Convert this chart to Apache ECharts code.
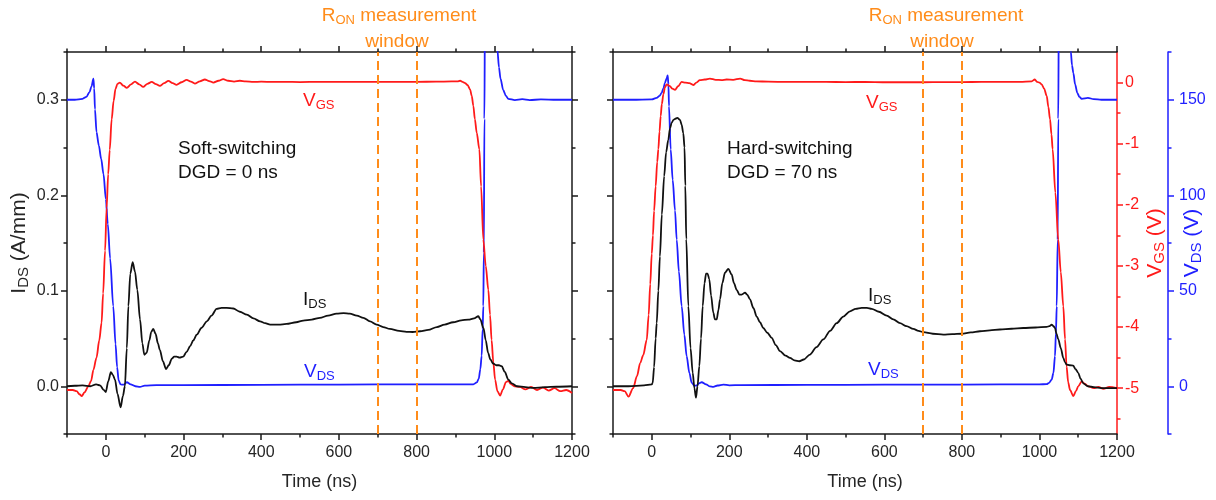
<!DOCTYPE html>
<html><head><meta charset="utf-8">
<script src="https://cdn.jsdelivr.net/npm/echarts@6/dist/echarts.min.js"></script>
<style>html,body{margin:0;padding:0;background:#fff}#c{width:1216px;height:500px}</style>
</head><body><div id="c"></div>
<script>
// ---------- axis ranges & ticks ----------
const T_MIN = -100, T_MAX = 1200;
const X_MAJOR = [0, 200, 400, 600, 800, 1000, 1200];
const X_MINOR = [-100, 100, 300, 500, 700, 900, 1100];
const I_MIN = -0.05, I_MAX = 0.35;
const I_MAJOR = [0, 0.1, 0.2, 0.3];
const I_MINOR = [-0.05, 0.05, 0.15, 0.25, 0.35];
const VGS_MIN = -5.75, VGS_MAX = 0.5;
const VGS_MAJOR = [0, -1, -2, -3, -4, -5];
const VGS_MINOR = [-0.5, -1.5, -2.5, -3.5, -4.5, -5.5];
const VDS_MIN = -25, VDS_MAX = 175;
const VDS_MAJOR = [0, 50, 100, 150];
const VDS_MINOR = [-25, 25, 75, 125, 175];
const WINDOW_T = [700, 800];

// ---------- Soft-switching (DGD = 0 ns) ----------
const softIds = [[-100,0],[-80,0.0005],[-60,0.001],[-40,0.0],[-25,0.002],[-15,0.001],[-5,-0.004],[0,-0.006],[6,0.005],[13,0.0147],[18,0.012],[23.6,0.007],[30,-0.008],[38,-0.022],[44,-0.01],[49,0.0],[54,0.04],[58,0.084],[63,0.118],[69,0.13],[75,0.12],[81,0.101],[88,0.07],[94,0.045],[99,0.033],[105,0.035],[112,0.048],[117,0.057],[122,0.060],[128,0.055],[134,0.045],[139,0.038],[147,0.026],[155,0.018],[162,0.022],[170,0.029],[176,0.031],[182,0.031],[190,0.03],[199,0.031],[208,0.036],[217,0.042],[225,0.048],[234,0.054],[246,0.061],[260,0.068],[272,0.074],[285,0.081],[298,0.082],[311,0.082],[328,0.0814],[345,0.078],[363,0.075],[380,0.071],[397,0.068],[410,0.066],[423,0.0646],[445,0.0645],[465,0.0653],[490,0.067],[508,0.0688],[530,0.0698],[551,0.0716],[572,0.074],[594,0.0761],[612,0.0765],[628,0.0761],[646,0.074],[663,0.0716],[680,0.068],[697,0.0646],[714,0.062],[731,0.060],[755,0.058],[774,0.057],[790,0.0568],[809,0.0576],[830,0.059],[852,0.062],[872,0.0645],[894,0.067],[915,0.069],[933,0.0698],[948,0.071],[959,0.0733],[964,0.07],[972,0.061],[978,0.048],[984,0.035],[990,0.028],[997,0.0238],[1005,0.022],[1012,0.022],[1019,0.021],[1027,0.015],[1036,0.007],[1045,0.003],[1058,0.0],[1080,-0.001],[1100,-0.0017],[1130,-0.001],[1160,-0.0005],[1200,0]];
const softVgs = [[-100,-5.03],[-85,-5.03],[-75,-5.05],[-68,-5.1],[-62,-5.13],[-55,-5.07],[-45,-4.97],[-38,-4.88],[-32,-4.7],[-24,-4.5],[-17,-4.22],[-11,-3.93],[-7,-3.45],[-2,-2.75],[2,-2.05],[6,-1.5],[10,-1.1],[15,-0.6],[20,-0.3],[25,-0.1],[30,-0.02],[36,0.0],[45,-0.05],[54,-0.088],[65,-0.03],[75,0.016],[86,-0.03],[96,-0.072],[107,-0.02],[118,0.01],[129,-0.025],[139,-0.055],[150,-0.01],[161,0.027],[172,-0.01],[182,-0.038],[195,0.005],[208,0.044],[219,0.015],[229,-0.016],[242,0.02],[255,0.05],[266,0.025],[277,0.0],[290,0.03],[302,0.055],[315,0.03],[330,0.015],[345,0.03],[360,0.02],[380,0.01],[400,0.015],[430,0.01],[460,0.012],[500,0.008],[550,0.012],[600,0.01],[650,0.01],[700,0.01],[750,0.012],[800,0.012],[850,0.015],[890,0.018],[905,0.02],[912,0.03],[918,0.01],[925,-0.01],[931,-0.04],[937.5,-0.11],[942,-0.22],[946,-0.38],[950,-0.6],[954.7,-0.82],[961.5,-1.09],[966,-1.7],[971.7,-2.57],[978,-3.0],[984.6,-3.39],[989,-3.8],[993,-4.21],[997.5,-4.58],[1002,-4.86],[1008,-5.05],[1015,-5.12],[1022,-5.02],[1030,-4.9],[1036,-4.88],[1042,-4.93],[1052,-4.97],[1066,-4.98],[1080,-5.02],[1095,-4.98],[1110,-5.03],[1125,-4.99],[1140,-5.04],[1155,-5.0],[1170,-5.05],[1185,-5.03],[1200,-5.08]];
const softVds = [[-100,150],[-80,150],[-60,150.5],[-50,151.5],[-42,154],[-37,157],[-32,161],[-30,156],[-28,145],[-24,133],[-18,126],[-12,119],[-6,111],[0,98],[5,85],[11,67],[19,42],[25,22],[29,10],[33,3],[38,1],[46,0.8],[54,2.1],[64,1.0],[76,0.0],[88,-0.3],[100,0.3],[130,0.6],[200,0.6],[400,0.7],[600,0.9],[800,1.0],[946,1.0],[955,2],[960,4],[964,9],[967.5,16],[970,30],[971.7,42],[973,70],[974.5,140],[976,200],[990,240],[1004,200],[1008,176],[1012,167],[1016,161],[1023,155],[1030,152],[1036,150.5],[1053,149.8],[1072,150.3],[1091,149.8],[1120,150.2],[1160,150],[1200,150]];

// ---------- Hard-switching (DGD = 70 ns) ----------
const hardIds = [[-100,0],[-60,0.0],[-20,0.001],[0,0.002],[2.4,0.0035],[6,0.02],[10,0.05],[12.7,0.066],[17,0.1],[21,0.136],[26,0.18],[32,0.22],[37,0.245],[42.6,0.258],[47,0.27],[51.4,0.276],[56,0.279],[60,0.28],[66,0.281],[72.8,0.279],[77,0.274],[81.3,0.265],[84.5,0.25],[86.5,0.21],[89,0.154],[94.3,0.084],[100,0.04],[105.6,0.014],[110,-0.002],[114,-0.012],[118,0.0],[122.6,0.021],[127,0.05],[131.4,0.084],[136,0.108],[140,0.118],[144,0.118],[148.4,0.112],[153,0.095],[158.7,0.077],[163,0.07],[167.5,0.070],[172,0.08],[176,0.091],[182,0.108],[188.9,0.119],[197.4,0.123],[206,0.117],[212,0.108],[219,0.101],[226,0.096],[232,0.096],[240.5,0.098],[246,0.096],[253.4,0.091],[262,0.082],[270.7,0.073],[279,0.067],[287.7,0.061],[298,0.056],[309.3,0.0507],[320,0.043],[330.8,0.0367],[345,0.032],[356.5,0.0297],[368,0.027],[380.6,0.0262],[392,0.028],[408,0.0332],[425,0.041],[442.5,0.049],[460,0.058],[477,0.066],[494,0.073],[511.3,0.0785],[526,0.081],[541.5,0.082],[555,0.082],[567.3,0.081],[586,0.078],[606,0.074],[623,0.070],[640.3,0.066],[657,0.063],[674.6,0.060],[688,0.058],[700.4,0.0566],[725,0.055],[752,0.054],[775,0.0545],[799.4,0.055],[823,0.0565],[846.6,0.0576],[872,0.0585],[898.2,0.0594],[928,0.0602],[958.3,0.061],[990,0.0615],[1018.7,0.0622],[1026,0.063],[1031.5,0.0646],[1036,0.063],[1040,0.061],[1044,0.055],[1048.6,0.049],[1055,0.04],[1061.5,0.0297],[1066,0.025],[1070,0.0227],[1078,0.022],[1087,0.0217],[1093,0.018],[1100,0.014],[1106,0.008],[1113,0.003],[1125,0.0],[1140,-0.001],[1160,-0.002],[1180,-0.002],[1200,-0.002]];
const hardVgs = [[-100,-5.03],[-80,-5.03],[-70,-5.05],[-60,-5.14],[-48,-5.0],[-38,-4.8],[-30,-4.59],[-22,-4.46],[-13,-4.21],[-8,-3.8],[-4,-3.3],[0,-2.8],[3,-2.5],[6,-2.1],[10,-1.7],[14,-1.3],[17,-1.09],[20,-0.8],[23,-0.55],[26,-0.35],[30,-0.19],[34,-0.08],[38.5,-0.03],[47,-0.06],[53,-0.1],[60,-0.12],[68,-0.06],[77,0.01],[87,0.0],[97,-0.01],[107,-0.04],[115,0.0],[124,0.04],[137,0.05],[150,0.066],[165,0.045],[180,0.04],[193,0.05],[210,0.045],[228,0.066],[240,0.04],[253,0.03],[270,0.02],[300,0.015],[350,0.01],[400,0.012],[450,0.01],[500,0.008],[550,0.01],[600,0.005],[650,0.005],[700,0.005],[750,0.008],[800,0.008],[850,0.01],[900,0.01],[950,0.012],[980,0.02],[988,0.05],[994,0.01],[1000,0.0],[1005.8,-0.03],[1012,-0.1],[1018.7,-0.22],[1023,-0.4],[1027.2,-0.6],[1031,-0.85],[1034,-1.09],[1041,-1.8],[1048.6,-2.57],[1055,-3.1],[1061.5,-3.66],[1066,-4.2],[1070,-4.65],[1074,-4.9],[1078.8,-5.03],[1087.3,-5.13],[1094,-5.05],[1100,-4.97],[1109,-4.89],[1117,-4.93],[1126,-4.97],[1140,-5.0],[1152,-4.98],[1165,-5.01],[1180,-4.98],[1200,-5.0]];
const hardVds = [[-100,150],[-50,150],[0,150.2],[12.7,151],[20,152],[25.6,153.6],[30,156],[34,158.8],[38,161],[41,162.7],[43,158],[44.4,146.6],[48.8,124],[54,108],[60,92],[64.3,76.8],[70,60],[77.2,41.9],[84,27],[90,15.7],[97,7],[103,1.8],[110,0.3],[116,0.4],[122,1.5],[128.8,2.1],[140,1.0],[150,-0.1],[158.7,-0.3],[170,0.4],[184.5,0.9],[200,0.5],[230,0.6],[400,0.7],[600,0.8],[800,0.9],[1000,1.0],[1018.6,1.1],[1025,1.8],[1031.5,3.5],[1036,7],[1040,15.7],[1042.5,28],[1044.5,41.9],[1047,76.8],[1048.5,140],[1050,200],[1065,240],[1078,200],[1081,175],[1084,168],[1087.4,164],[1092,158],[1097.6,153.6],[1103,151.5],[1109,150.5],[1125,151],[1140,150.3],[1160,150],[1200,150]];

// ---------- styling ----------
const FONT = '"Liberation Sans", Arial, Helvetica, sans-serif';
const AXC = '#1a1a1a', TXT = '#262626';
const RED = '#ff1a1a', BLUE = '#1f1fff', BLACK = '#111111', ORANGE = '#ff8c1a';

function tick(vals, len, color) {
  return { show: true, inside: false, customValues: vals, length: len, lineStyle: { color: color, width: 1.5 } };
}
function xAxesFor(g) {
  const base = { gridIndex: g, type: 'value', min: T_MIN, max: T_MAX, splitLine: { show: false } };
  return [
    Object.assign({}, base, { position: 'bottom',
      axisLine: { onZero: false, lineStyle: { color: AXC, width: 1.5 } },
      axisTick: tick(X_MAJOR, 6, AXC),
      axisLabel: { customValues: X_MAJOR, margin: 11, fontSize: 16, color: TXT, fontFamily: FONT, formatter: v => String(v) },
      name: 'Time (ns)', nameLocation: 'middle', nameGap: 39, nameMoveOverlap: false,
      nameTextStyle: { fontSize: 18, color: TXT, fontFamily: FONT } }),
    Object.assign({}, base, { position: 'bottom', axisLine: { show: false, onZero: false },
      axisTick: tick(X_MINOR, 3.5, AXC), axisLabel: { show: false } }),
    Object.assign({}, base, { position: 'top',
      axisLine: { onZero: false, lineStyle: { color: AXC, width: 1.5 } },
      axisTick: tick(X_MAJOR, 6, AXC), axisLabel: { show: false } }),
    Object.assign({}, base, { position: 'top', axisLine: { show: false, onZero: false },
      axisTick: tick(X_MINOR, 3.5, AXC), axisLabel: { show: false } })
  ];
}
function yAx(g, pos, min, max, major, minor, color, labelOpt, nameOpt, offset) {
  const base = { gridIndex: g, type: 'value', min: min, max: max, position: pos, offset: offset || 0,
    splitLine: { show: false } };
  const main = Object.assign({}, base, {
    axisLine: { onZero: false, lineStyle: { color: color, width: 1.5 } },
    axisTick: tick(major, 6, color),
    axisLabel: labelOpt ? Object.assign({ customValues: major, fontSize: 16, color: color === AXC ? TXT : color, fontFamily: FONT }, labelOpt) : { show: false }
  }, nameOpt || {});
  const mn = Object.assign({}, base, { axisLine: { show: false, onZero: false },
    axisTick: tick(minor, 3.5, color), axisLabel: { show: false } });
  return [main, mn];
}
function richName(main, sub, rest, color) {
  return {
    name: '{m|' + main + '}{s|' + sub + '}{m|' + rest + '}',
    nameLocation: 'middle', nameRotate: 90, nameMoveOverlap: false,
    nameTextStyle: { color: color, fontFamily: FONT,
      rich: { m: { fontSize: 21, color: color, fontFamily: FONT },
              s: { fontSize: 15, color: color, fontFamily: FONT, padding: [9, 0, 0, 0] } } }
  };
}

const xAxis = [].concat(xAxesFor(0), xAxesFor(1));
const yAxis = [].concat(
  // grid 0
  yAx(0, 'left', I_MIN, I_MAX, I_MAJOR, I_MINOR, AXC, { margin: 8, formatter: v => v.toFixed(1) },
      Object.assign(richName('I', 'DS', ' (A/mm)', TXT), { nameGap: 36 })),
  yAx(0, 'right', I_MIN, I_MAX, I_MAJOR, I_MINOR, AXC, null, null),
  [{ gridIndex: 0, type: 'value', min: VGS_MIN, max: VGS_MAX, show: false },
   { gridIndex: 0, type: 'value', min: VDS_MIN, max: VDS_MAX, show: false }],
  // grid 1
  yAx(1, 'left', I_MIN, I_MAX, I_MAJOR, I_MINOR, AXC, null, null),
  yAx(1, 'right', VGS_MIN, VGS_MAX, VGS_MAJOR, VGS_MINOR, RED, { margin: 8, formatter: v => String(v) },
      Object.assign(richName('V', 'GS', ' (V)', RED), { nameGap: 26 })),
  yAx(1, 'right', VDS_MIN, VDS_MAX, VDS_MAJOR, VDS_MINOR, BLUE, { margin: 11, formatter: v => String(v) },
      Object.assign(richName('V', 'DS', ' (V)', BLUE), { nameGap: 12 }), 51)
);

function line(data, g, yIdx, color, extra) {
  return Object.assign({ type: 'line', data: data, xAxisIndex: g * 4, yAxisIndex: yIdx,
    showSymbol: false, symbol: 'none', smooth: 0.3, smoothMonotone: 'x', clip: true,
    lineStyle: { color: color, width: 1.8 }, itemStyle: { color: color }, silent: true }, extra || {});
}
function windowLines() {
  return { silent: true, symbol: ['none', 'none'], label: { show: false },
    lineStyle: { color: ORANGE, type: [9, 5], width: 2 },
    data: WINDOW_T.map(t => ({ xAxis: t })) };
}
const series = [
  line(softVds, 0, 5, BLUE), line(softVgs, 0, 4, RED),
  line(softIds, 0, 0, BLACK, { markLine: windowLines() }),
  line(hardVds, 1, 10, BLUE), line(hardVgs, 1, 8, RED),
  line(hardIds, 1, 6, BLACK, { markLine: windowLines() })
];

function txt(x, y, text, color, align, rich) {
  return { type: 'text', x: x, y: y, silent: true,
    style: { text: text, fill: color, align: align, verticalAlign: 'middle',
      font: '19px ' + FONT, rich: rich } };
}
function subRich(color) {
  return { m: { fontSize: 19, fontFamily: FONT, fill: color },
           s: { fontSize: 13, fontFamily: FONT, fill: color, padding: [9, 0, 0, 0] } };
}
const graphic = [
  txt(399, 16, '{m|R}{s|ON}{m| measurement}', ORANGE, 'center', subRich(ORANGE)),
  txt(397, 42, 'window', ORANGE, 'center'),
  txt(946, 16, '{m|R}{s|ON}{m| measurement}', ORANGE, 'center', subRich(ORANGE)),
  txt(942, 42, 'window', ORANGE, 'center'),
  txt(178, 149, 'Soft-switching', BLACK, 'left'),
  txt(178, 173, 'DGD = 0 ns', BLACK, 'left'),
  txt(727, 149, 'Hard-switching', BLACK, 'left'),
  txt(727, 173, 'DGD = 70 ns', BLACK, 'left'),
  txt(303, 101, '{m|V}{s|GS}', RED, 'left', subRich(RED)),
  txt(866, 103, '{m|V}{s|GS}', RED, 'left', subRich(RED)),
  txt(303, 300, '{m|I}{s|DS}', BLACK, 'left', subRich(BLACK)),
  txt(868, 296, '{m|I}{s|DS}', BLACK, 'left', subRich(BLACK)),
  txt(304, 372, '{m|V}{s|DS}', BLUE, 'left', subRich(BLUE)),
  txt(868, 370, '{m|V}{s|DS}', BLUE, 'left', subRich(BLUE))
];

const chart = echarts.init(document.getElementById('c'), null, { renderer: 'canvas' });
chart.setOption({
  animation: false,
  backgroundColor: '#ffffff',
  textStyle: { fontFamily: FONT },
  grid: [
    { left: 67, top: 52, width: 505, height: 382, containLabel: false, outerBoundsMode: 'none' },
    { left: 613, top: 52, width: 504, height: 382, containLabel: false, outerBoundsMode: 'none' }
  ],
  xAxis: xAxis,
  yAxis: yAxis,
  series: series,
  graphic: graphic
});
</script></body></html>
